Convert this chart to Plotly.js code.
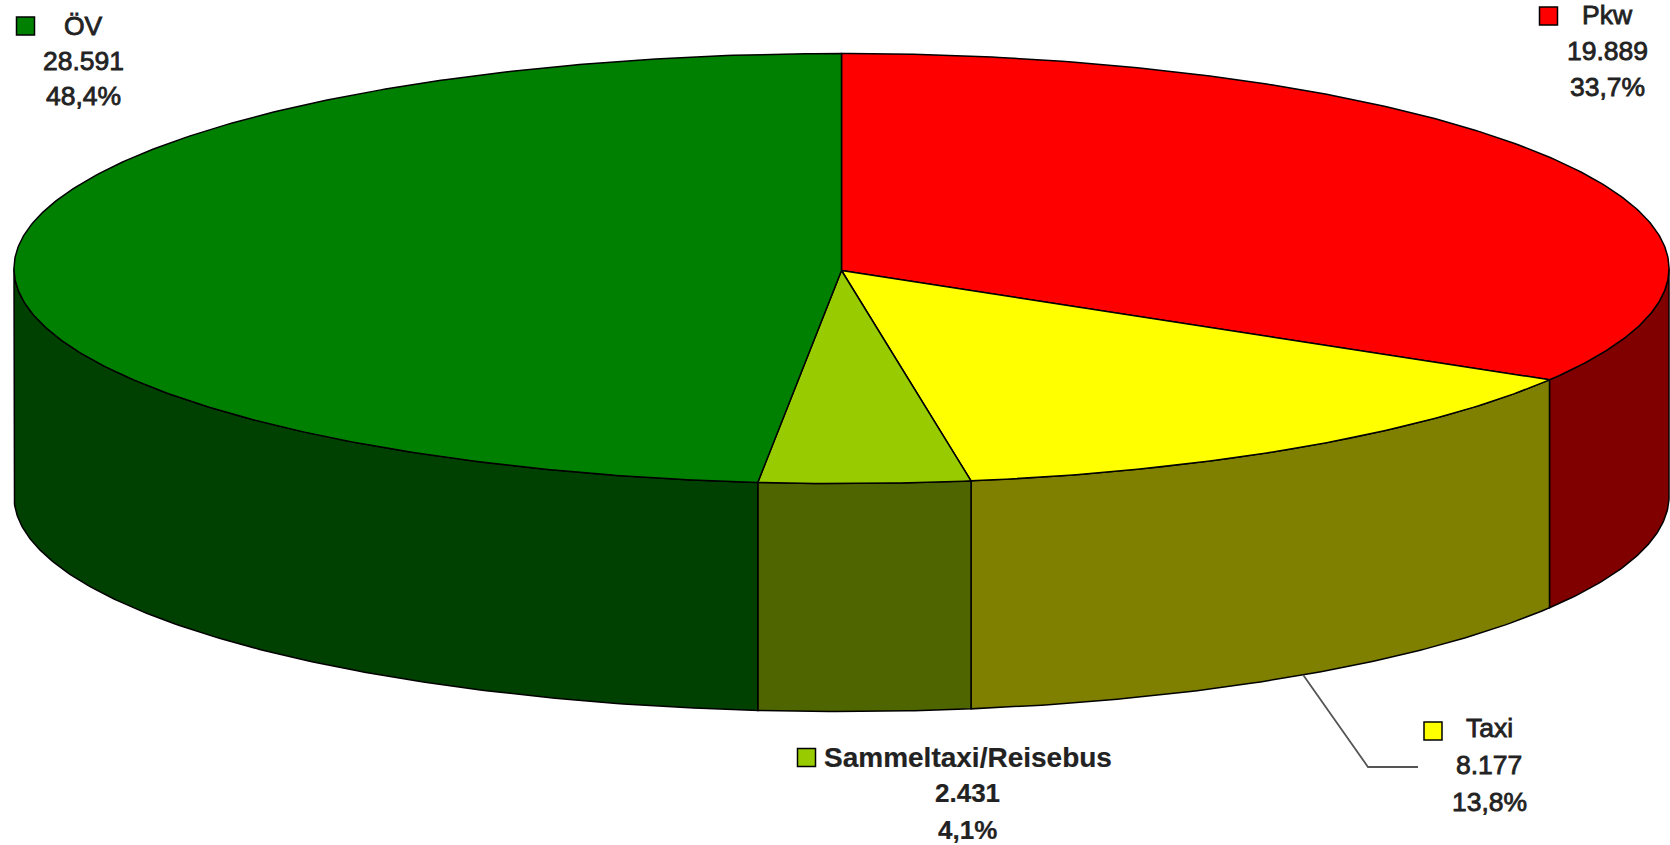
<!DOCTYPE html>
<html>
<head>
<meta charset="utf-8">
<script src="https://cdn.plot.ly/plotly-3.0.1.min.js"></script>
<style>
html,body{margin:0;padding:0;background:#fff;overflow:hidden}
#chart{width:1670px;height:845px}
.annotation text{stroke:#222;stroke-width:.8px}
.annotation[data-index="6"] text,.annotation[data-index="7"] text,.annotation[data-index="8"] text{stroke-width:.2px}
</style>
</head>
<body>
<div id="chart"></div>
<script>
// Data
const categories = ['Pkw', 'Taxi', 'Sammeltaxi/Reisebus', 'ÖV'];
const values = [19889, 8177, 2431, 28591];
const topColors = ['#FF0000', '#FFFF00', '#99CC00', '#008000'];
const sideColors = ['#800000', '#808000', '#4F6500', '#004000'];

// Placement of each label: swatch centre, text centre x, y of the three text lines
const swatchX = [1548.5, 1433, 806.5, 25.5];
const swatchY = [16, 731, 757.5, 26];
const labelX = [1607, 1489, 967.5, 83.5];
const labelLineY = [[15, 51, 87], [728, 765, 802], [757, 793, 830], [26, 61, 96]];
const labelWeight = [400, 400, 700, 400];
const labelNameSize = [26.5, 26.5, 28, 26.5];
const labelSize = [26.5, 26.5, 26, 26.5];

// Pie geometry in page pixels
const CX = 841.5, CY = 268.5, HUB_Y = 270.5, RX = 827.5, RY = 215, DEPTH = 228;
const px = a => CX + RX * Math.sin(a * Math.PI / 180);
const py = (a, d) => CY - RY * Math.cos(a * Math.PI / 180) + (d || 0);
const total = values.reduce((s, v) => s + v, 0);

function arc(a0, a1, d) {
  const n = Math.max(2, Math.ceil(Math.abs(a1 - a0) * 2));
  const xs = [], ys = [];
  for (let i = 0; i <= n; i++) {
    const a = a0 + (a1 - a0) * i / n;
    xs.push(px(a)); ys.push(py(a, d));
  }
  return [xs, ys];
}
const poly = (x, y, fill) => ({
  type: 'scatter', mode: 'lines', x, y, fill: 'toself', fillcolor: fill,
  line: {color: '#000', width: 1.5, shape: 'linear'}, hoverinfo: 'skip', cliponaxis: false
});

const walls = [], tops = [], swatches = [], annotations = [];
let start = 0;
const mids = [];
values.forEach((v, i) => {
  const end = start + v / total * 360;
  mids.push((start + end) / 2);
  // visible wall: the front half of the rim
  const w0 = Math.max(start, 90), w1 = Math.min(end, 270);
  if (w1 > w0) {
    const [ax, ay] = arc(w0, w1, 0);
    const [bx, by] = arc(w1, w0, DEPTH);
    walls.push(poly(ax.concat(bx, ax[0]), ay.concat(by, ay[0]), sideColors[i]));
  }
  const [tx, ty] = arc(start, end, 0);
  tops.push(poly([CX].concat(tx, CX), [HUB_Y].concat(ty, HUB_Y), topColors[i]));
  swatches.push({
    type: 'scatter', mode: 'markers', x: [swatchX[i]], y: [swatchY[i]], hoverinfo: 'skip',
    marker: {symbol: 'square', size: 18, color: topColors[i], line: {color: '#000', width: 1.5}}
  });
  const pct = (v / total * 100).toFixed(1).replace('.', ',') + '%';
  const num = Math.floor(v / 1000) + '.' + String(v % 1000).padStart(3, '0');
  [categories[i], num, pct].forEach((t, k) => {
    annotations.push({
      x: labelX[i], y: labelLineY[i][k], xref: 'x', yref: 'y', text: t, showarrow: false,
      xanchor: 'center', yanchor: 'middle',
      font: {family: '"Liberation Sans", Arial, sans-serif',
             size: k === 0 ? labelNameSize[i] : labelSize[i], color: '#222', weight: labelWeight[i]}
    });
  });
  start = end;
});

// Leader line from the Taxi wall to its label
const lx = px(mids[1]), ly = py(mids[1], DEPTH);
const leader = {
  type: 'scatter', mode: 'lines', x: [lx, 1368, 1418], y: [ly, 767, 767],
  line: {color: '#555', width: 1.8}, hoverinfo: 'skip'
};

Plotly.newPlot('chart', walls.concat(tops, [leader], swatches), {
  width: 1670, height: 845,
  margin: {l: 0, r: 0, t: 0, b: 0, pad: 0},
  paper_bgcolor: '#fff', plot_bgcolor: '#fff', showlegend: false,
  xaxis: {range: [0, 1670], visible: false, fixedrange: true},
  yaxis: {range: [845, 0], visible: false, fixedrange: true},
  annotations
}, {displayModeBar: false, staticPlot: true});
</script>
</body>
</html>
